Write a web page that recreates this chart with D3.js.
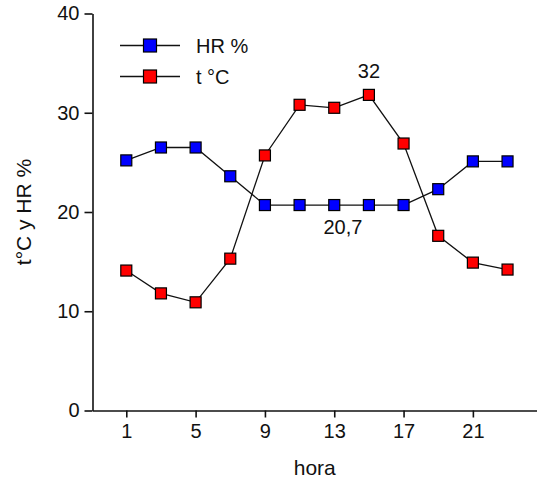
<!DOCTYPE html>
<html>
<head>
<meta charset="utf-8">
<script src="https://cdn.jsdelivr.net/npm/d3@7/dist/d3.min.js"></script>
<style>
  html, body { margin: 0; padding: 0; background: #fff; }
  svg { display: block; }
  text { font-family: "Liberation Sans", Arial, sans-serif; fill: #111; }
</style>
</head>
<body>
<script>
// ---- data ----
const hours = [1, 3, 5, 7, 9, 11, 13, 15, 17, 19, 21, 23];
const hrValues = [25.2, 26.5, 26.5, 23.6, 20.7, 20.7, 20.7, 20.7, 20.7, 22.3, 25.1, 25.1];
const tValues  = [14.1, 11.8, 10.9, 15.3, 25.7, 30.8, 30.5, 31.8, 26.9, 17.6, 14.9, 14.2];
const seriesNames = ["HR %", "t °C"];
const seriesColors = ["#0000ff", "#ff0000"];
const xTicks = [1, 5, 9, 13, 17, 21];
const yTicks = [0, 10, 20, 30, 40];
const xTitle = "hora";
const yTitle = "t°C y HR %";
const annotations = [
  { hour: 15, value: 31.8, text: "32", pos: "above" },
  { hour: 13.5, value: 20.7, text: "20,7", pos: "below" }
];

// ---- layout ----
const W = 537, H = 481;
const svg = d3.select("body").append("svg").attr("width", W).attr("height", H);

const x = d3.scaleLinear().domain([-0.95, 24.7]).range([92.5, 537]);
const y = d3.scaleLinear().domain([0, 40]).range([410.5, 13.5]);

// axes
const xAxis = d3.axisBottom(x).tickValues(xTicks).tickSize(7).tickSizeOuter(0).tickPadding(6);
const yAxis = d3.axisLeft(y).tickValues(yTicks).tickSize(8).tickSizeOuter(0).tickPadding(5);

const gx = svg.append("g").attr("transform", `translate(0,${y(0)})`).call(xAxis);
const gy = svg.append("g").attr("transform", `translate(${x.range()[0]},0)`).call(yAxis);
[gx, gy].forEach(g => {
  g.selectAll("path, line").attr("stroke", "#111").attr("stroke-width", 1.6);
  g.selectAll("text").attr("font-size", 20).attr("fill", "#111")
    .attr("font-family", "'Liberation Sans', Arial, sans-serif");
});

// titles
svg.append("text").attr("x", (x.range()[0] + W) / 2).attr("y", 475)
  .attr("text-anchor", "middle").attr("font-size", 21).text(xTitle);
svg.append("text").attr("transform", `translate(31,212) rotate(-90)`)
  .attr("text-anchor", "middle").attr("font-size", 21).text(yTitle);

// series
const series = [hrValues, tValues];
const line = d3.line().x((d, i) => x(hours[i])).y(d => y(d));
const ms = 11;
series.forEach((vals, si) => {
  svg.append("path").datum(vals).attr("d", line)
    .attr("fill", "none").attr("stroke", "#111").attr("stroke-width", 1.3);
});
series.forEach((vals, si) => {
  svg.append("g").selectAll("rect").data(vals).join("rect")
    .attr("x", (d, i) => x(hours[i]) - ms / 2)
    .attr("y", d => y(d) - ms / 2)
    .attr("width", ms).attr("height", ms)
    .attr("fill", seriesColors[si]).attr("stroke", "#000").attr("stroke-width", 1.2);
});

// annotations
annotations.forEach(a => {
  svg.append("text").attr("x", x(a.hour))
    .attr("y", a.pos === "above" ? y(a.value) - 17 : y(a.value) + 29)
    .attr("text-anchor", "middle").attr("font-size", 20).text(a.text);
});

// legend
const lg = svg.append("g");
seriesNames.forEach((name, i) => {
  const ly = 45.5 + i * 31;
  lg.append("line").attr("x1", 120).attr("x2", 180).attr("y1", ly).attr("y2", ly)
    .attr("stroke", "#111").attr("stroke-width", 1.3);
  lg.append("rect").attr("x", 150 - 6.5).attr("y", ly - 6.5).attr("width", 13).attr("height", 13)
    .attr("fill", seriesColors[i]).attr("stroke", "#000").attr("stroke-width", 1.2);
  lg.append("text").attr("x", 196).attr("y", ly + 7).attr("font-size", 20).text(name);
});
</script>
</body>
</html>
